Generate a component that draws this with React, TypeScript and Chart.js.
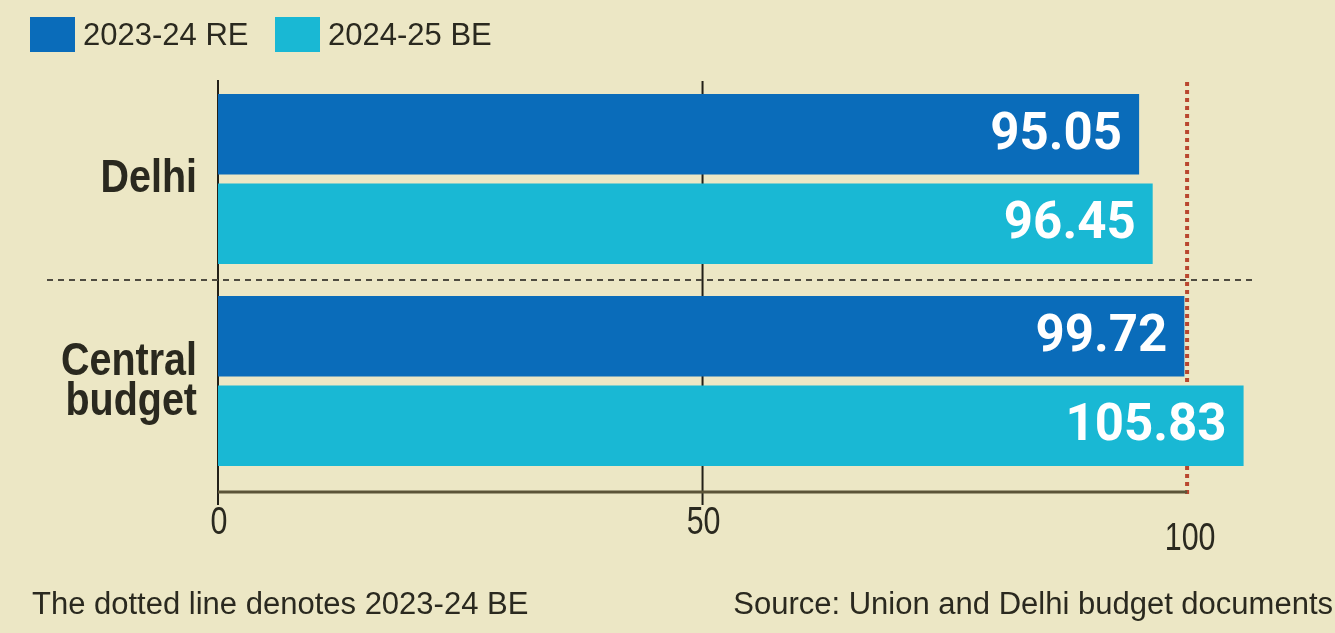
import React, { useEffect, useRef } from "react";
import { Chart, registerables } from "chart.js";

Chart.register(...registerables);

const categories = ["Delhi", "Central budget"];
const categoryLines = [["Delhi"], ["Central", "budget"]];
const seriesLabels = ["2023-24 RE", "2024-25 BE"];
const re202324 = [95.05, 99.72];
const be202425 = [96.45, 105.83];
const xTickValues = [0, 50, 100];
const be202324Line = 100;
const footnote = "The dotted line denotes 2023-24 BE";
const sourceText = "Source: Union and Delhi budget documents";

const BG = "#ECE7C5";
const DARK_BLUE = "#0A6CBA";
const CYAN = "#19B8D4";
const TEXT = "#2A291F";

function narrowText(ctx: any, text: string, x: number, y: number, align: string, squeeze: number) {
  ctx.save();
  ctx.translate(x, y);
  ctx.scale(squeeze, 1);
  ctx.textAlign = align;
  ctx.fillText(text, 0, 0);
  ctx.restore();
}

const overlayPlugin = {
  id: "overlay",
  beforeDatasetsDraw(chart: any) {
    const { ctx, chartArea, scales } = chart;
    const xs = scales.x;
    const ys = scales.y;
    const x0 = xs.getPixelForValue(0);
    const x50 = xs.getPixelForValue(50);
    const xRef = xs.getPixelForValue(be202324Line);
    const axisY = chartArea.bottom + 10;
    ctx.save();
    ctx.strokeStyle = "#222018";
    ctx.lineWidth = 2;
    ctx.beginPath();
    ctx.moveTo(x0, chartArea.top + 2);
    ctx.lineTo(x0, axisY + 13);
    ctx.stroke();
    ctx.beginPath();
    ctx.moveTo(x50, chartArea.top + 3);
    ctx.lineTo(x50, axisY + 13);
    ctx.stroke();
    ctx.strokeStyle = "#B9472F";
    ctx.lineWidth = 4;
    ctx.setLineDash([4, 4]);
    ctx.beginPath();
    ctx.moveTo(xRef, chartArea.top + 4);
    ctx.lineTo(xRef, axisY + 5);
    ctx.stroke();
    ctx.setLineDash([]);
    ctx.strokeStyle = "#5B5438";
    ctx.lineWidth = 3;
    ctx.beginPath();
    ctx.moveTo(x0, axisY);
    ctx.lineTo(xRef, axisY);
    ctx.stroke();
    const sepY = (ys.getPixelForValue(0) + ys.getPixelForValue(1)) / 2;
    ctx.strokeStyle = "#4E4B40";
    ctx.lineWidth = 2;
    ctx.setLineDash([6, 5]);
    ctx.beginPath();
    ctx.moveTo(47, sepY);
    ctx.lineTo(1256, sepY);
    ctx.stroke();
    ctx.setLineDash([]);
    ctx.restore();
  },
  afterDatasetsDraw(chart: any) {
    const { ctx, chartArea, scales } = chart;
    const xs = scales.x;
    const ys = scales.y;
    ctx.save();
    ctx.fillStyle = "#FFFFFF";
    ctx.font = "bold 51px Roboto";
    ctx.textAlign = "right";
    ctx.textBaseline = "middle";
    chart.data.datasets.forEach((ds: any, i: number) => {
      const meta = chart.getDatasetMeta(i);
      meta.data.forEach((el: any, j: number) => {
        ctx.fillText(Number(ds.data[j]).toFixed(2), el.x - 17, el.y + 2);
      });
    });
    ctx.fillStyle = TEXT;
    ctx.font = "bold 47px 'Liberation Sans', Arial, sans-serif";
    ctx.textBaseline = "alphabetic";
    categoryLines.forEach((lines, i) => {
      const cy = ys.getPixelForValue(i);
      if (lines.length === 1) {
        narrowText(ctx, lines[0], 197, cy + 13, "right", 0.84);
      } else {
        narrowText(ctx, lines[0], 197, cy - 6, "right", 0.84);
        narrowText(ctx, lines[1], 197, cy + 34, "right", 0.84);
      }
    });
    ctx.font = "38px 'Liberation Sans', Arial, sans-serif";
    ctx.textBaseline = "middle";
    xTickValues.forEach((v) => {
      const px = xs.getPixelForValue(v);
      if (v === be202324Line) {
        narrowText(ctx, String(v), px + 3, chartArea.bottom + 58, "center", 0.8);
      } else {
        narrowText(ctx, String(v), px + 1, chartArea.bottom + 42, "center", 0.8);
      }
    });
    ctx.font = "31px 'Liberation Sans', Arial, sans-serif";
    ctx.textAlign = "left";
    const legendX = [30, 275];
    chart.data.datasets.forEach((ds: any, i: number) => {
      ctx.fillStyle = ds.backgroundColor;
      ctx.fillRect(legendX[i], 17, 45, 35);
      ctx.fillStyle = TEXT;
      ctx.fillText(ds.label, legendX[i] + 53, 36);
    });
    ctx.textAlign = "left";
    ctx.fillText(footnote, 32, 605);
    ctx.textAlign = "right";
    ctx.fillText(sourceText, 1333, 605);
    ctx.restore();
  },
};

export default function App() {
  const canvasRef = useRef<HTMLCanvasElement | null>(null);

  useEffect(() => {
    if (!canvasRef.current) return;
    const chart = new Chart(canvasRef.current, {
      type: "bar",
      data: {
        labels: categories,
        datasets: [
          {
            label: seriesLabels[0],
            data: re202324,
            backgroundColor: DARK_BLUE,
            borderWidth: 0,
            barPercentage: 0.9,
            categoryPercentage: 0.886,
          },
          {
            label: seriesLabels[1],
            data: be202425,
            backgroundColor: CYAN,
            borderWidth: 0,
            barPercentage: 0.9,
            categoryPercentage: 0.886,
          },
        ],
      },
      options: {
        indexAxis: "y",
        animation: false,
        responsive: true,
        maintainAspectRatio: false,
        layout: { padding: { left: 218, right: 51, top: 78, bottom: 151 } },
        plugins: {
          legend: { display: false },
          tooltip: { enabled: false },
        },
        scales: {
          x: { display: false, min: 0, max: 110 },
          y: { display: false, offset: true },
        },
      },
      plugins: [overlayPlugin],
    });
    return () => chart.destroy();
  }, []);

  return (
    <div
      style={{
        position: "fixed",
        left: 0,
        top: 0,
        width: "1335px",
        height: "633px",
        background: BG,
      }}
    >
      <canvas ref={canvasRef} />
    </div>
  );
}
